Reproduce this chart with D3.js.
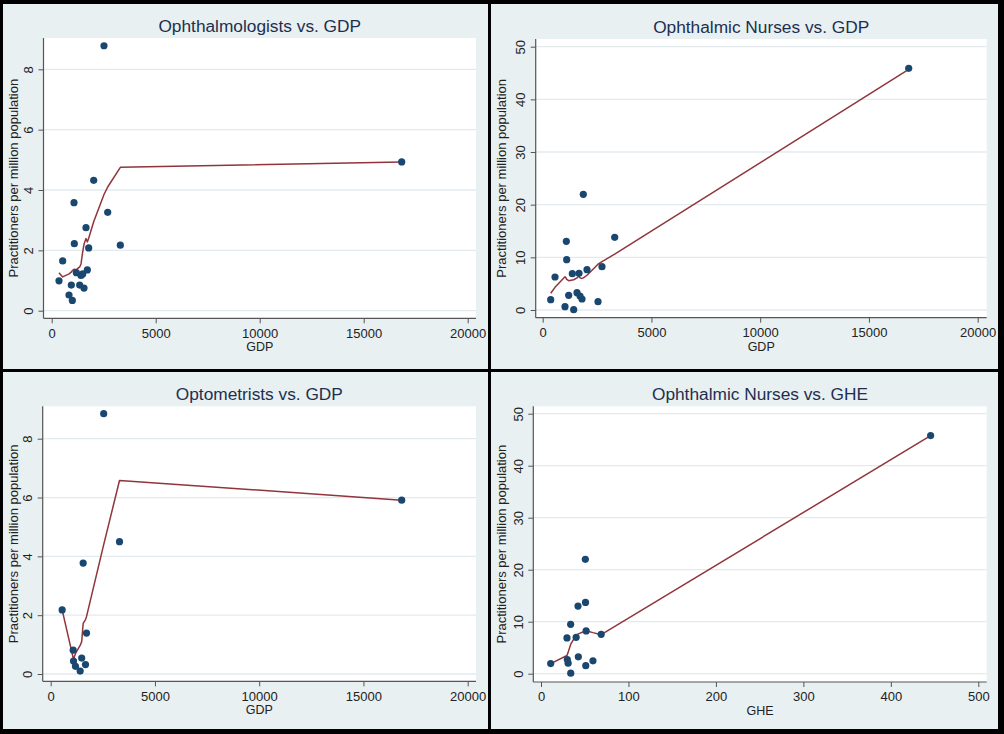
<!DOCTYPE html>
<html><head><meta charset="utf-8">
<script src="https://cdn.jsdelivr.net/npm/d3@7/dist/d3.min.js"></script>
<style>
body{margin:0;background:#000;}
svg{display:block;}
text{font-family:"Liberation Sans",Arial,sans-serif;}
</style>
</head><body>
<svg id="c" width="1004" height="734"></svg>
<script>
// ---------- data ----------
// Panel 1: Ophthalmologists vs. GDP
const gdpOphth = [351, 528, 832, 943, 992, 1072, 1088, 1184, 1345, 1409, 1490, 1553, 1649, 1713, 1778, 2018, 2514, 2692, 3300, 16827];
const ophthalmologists = [0.99, 1.65, 0.52, 0.85, 0.34, 3.58, 2.22, 1.26, 0.85, 1.17, 1.22, 0.75, 2.75, 1.35, 2.08, 4.32, 8.78, 3.26, 2.17, 4.93];
const ophthFit = [1.26, 1.12, 1.22, 1.28, 1.33, 1.37, 1.37, 1.36, 1.45, 1.55, 1.95, 2.2, 2.39, 2.28, 2.4, 2.95, 3.85, 4.1, 4.75, 4.93];

// Panel 2: Ophthalmic Nurses vs. GDP
const gdpNurses = [368, 566, 1025, 1087, 1103, 1195, 1362, 1425, 1577, 1669, 1715, 1807, 1867, 2037, 2543, 2726, 3310, 16828];
const nurses = [1.96, 6.27, 0.63, 13.04, 9.55, 2.79, 6.9, 0.06, 3.29, 6.96, 2.66, 2.09, 21.96, 7.66, 1.58, 8.23, 13.8, 45.9];
const nursesGdpFit = [3.17, 4.3, 6.3, 6.0, 5.8, 5.57, 5.7, 5.75, 6.1, 6.45, 6.1, 6.0, 6.1, 6.6, 8.7, 9.2, 10.6, 45.7];

// Panel 3: Optometrists vs. GDP
const gdpOptom = [549, 1078, 1093, 1189, 1413, 1486, 1557, 1669, 1717, 2542, 3300, 16835];
const optometrists = [2.18, 0.81, 0.44, 0.26, 0.10, 0.54, 3.77, 0.32, 1.39, 8.85, 4.50, 5.91];
const optomFit = [2.18, 0.55, 0.5, 0.7, 0.97, 1.1, 1.72, 1.85, 1.95, 4.4, 6.58, 5.91];

// Panel 4: Ophthalmic Nurses vs. GHE
const gheNurses = [11.1, 29.7, 30.1, 31.0, 33.9, 34.0, 40.2, 42.3, 42.7, 50.7, 50.9, 51.2, 51.6, 59.4, 68.8, 445.5];
const nursesGhe = [1.95, 6.88, 2.72, 2.02, 9.5, 0.1, 7.0, 13.0, 3.24, 21.99, 13.7, 1.54, 8.22, 2.47, 7.58, 45.8];
const nursesGheFit = [1.95, 3.5, 3.7, 4.1, 5.6, 5.7, 7.4, 7.6, 7.65, 8.2, 8.22, 8.25, 8.27, 7.9, 7.5, 45.8];

// tick labels
const gdpTicks = [0, 5000, 10000, 15000, 20000];
const gheTicks = [0, 100, 200, 300, 400, 500];
const ticksSmall = [0, 2, 4, 6, 8];
const ticksLarge = [0, 10, 20, 30, 40, 50];

const titles = ["Ophthalmologists vs. GDP", "Ophthalmic Nurses vs. GDP", "Optometrists vs. GDP", "Ophthalmic Nurses vs. GHE"];
const xLabels = ["GDP", "GDP", "GDP", "GHE"];
const yLabel = "Practitioners per million population";

// ---------- layout ----------
const layout = [
  {box:[3,4,488,369],   plot:[43.5,38,476,318.3],   xPx:[51.7,467.7], yPx:[310.7,69.3]},
  {box:[491,4,998,369], plot:[535.7,39,986.7,317.7], xPx:[542.7,977.7], yPx:[310,46.7]},
  {box:[3,372,488,729], plot:[42.7,406.3,476,681.3], xPx:[50.7,467.7], yPx:[674,438.7]},
  {box:[491,372,998,729], plot:[533.3,406.3,986.7,682], xPx:[541,978.3], yPx:[673.7,413.7]}
];
const panels = [
  {x:gdpOphth, y:ophthalmologists, fit:ophthFit, xt:gdpTicks, yt:ticksSmall},
  {x:gdpNurses, y:nurses, fit:nursesGdpFit, xt:gdpTicks, yt:ticksLarge},
  {x:gdpOptom, y:optometrists, fit:optomFit, xt:gdpTicks, yt:ticksSmall},
  {x:gheNurses, y:nursesGhe, fit:nursesGheFit, xt:gheTicks, yt:ticksLarge}
];

const BG = "#e8f0f2", GRID = "#e2eaee", NAVY = "#1a476f", MAROON = "#90353b", TITLE = "#1d2f4f";
const svg = d3.select("#c");
svg.append("rect").attr("width",1004).attr("height",734).attr("fill","#000");

panels.forEach((p, i) => {
  const L = layout[i];
  const g = svg.append("g");
  g.append("rect").attr("x",L.box[0]).attr("y",L.box[1])
    .attr("width",L.box[2]-L.box[0]).attr("height",L.box[3]-L.box[1]).attr("fill",BG);
  const [px0,py0,px1,py1] = L.plot;
  g.append("rect").attr("x",px0).attr("y",py0).attr("width",px1-px0).attr("height",py1-py0).attr("fill","#fff");

  const x = d3.scaleLinear().domain([p.xt[0], p.xt[p.xt.length-1]]).range(L.xPx);
  const y = d3.scaleLinear().domain([p.yt[0], p.yt[p.yt.length-1]]).range(L.yPx);

  // grid
  g.append("g").selectAll("line").data(p.yt).join("line")
    .attr("x1",px0).attr("x2",px1).attr("y1",d=>y(d)).attr("y2",d=>y(d))
    .attr("stroke",GRID).attr("stroke-width",1.3);

  // x axis
  const xa = g.append("g").attr("transform",`translate(0,${py1})`)
    .call(d3.axisBottom(x).tickValues(p.xt).tickFormat(d3.format("d")).tickSizeOuter(0).tickSize(5));
  xa.select(".domain").attr("d",`M${px0},0H${px1}`).attr("stroke","#555").attr("stroke-width",1.2);
  xa.selectAll(".tick line").attr("stroke","#555");
  xa.selectAll(".tick text").attr("y",19.3).attr("dy",0).attr("font-size",13).attr("fill","#222")
    .style("font-family","'Liberation Sans',Arial,sans-serif");

  // y axis
  const ya = g.append("g").attr("transform",`translate(${px0},0)`)
    .call(d3.axisLeft(y).tickValues(p.yt).tickFormat(d3.format("d")).tickSizeOuter(0).tickSize(5));
  ya.select(".domain").attr("d",`M0,${py0}V${py1}`).attr("stroke","#555").attr("stroke-width",1.2);
  ya.selectAll(".tick line").attr("stroke","#555");
  ya.selectAll(".tick text").attr("x",0).attr("y",-10.5).attr("dy",0).attr("text-anchor","middle")
    .attr("transform","rotate(-90)").attr("font-size",13).attr("fill","#222")
    .style("font-family","'Liberation Sans',Arial,sans-serif");
  xa.attr("font-family",null); ya.attr("font-family",null);

  // fit line
  const pts = p.x.map((v,k)=>[v,p.fit[k]]);
  g.append("path").attr("d", d3.line().x(d=>x(d[0])).y(d=>y(d[1]))(pts))
    .attr("fill","none").attr("stroke",MAROON).attr("stroke-width",1.5).attr("stroke-linejoin","round");

  // points
  g.append("g").selectAll("circle").data(p.x.map((v,k)=>[v,p.y[k]])).join("circle")
    .attr("cx",d=>x(d[0])).attr("cy",d=>y(d[1])).attr("r",3.6).attr("fill",NAVY);

  // title
  g.append("text").attr("x",(px0+px1)/2).attr("y",py0-6.5).attr("text-anchor","middle")
    .attr("font-size",17.3).attr("fill",TITLE).text(titles[i]);
  // x label
  g.append("text").attr("x",(px0+px1)/2).attr("y",py1+33).attr("text-anchor","middle")
    .attr("font-size",12.5).attr("fill","#222").text(xLabels[i]);
  // y label
  const cy = (py0+py1)/2, lx = L.box[0]+14.5;
  g.append("text").attr("transform",`translate(${lx},${cy}) rotate(-90)`).attr("text-anchor","middle")
    .attr("font-size",13).attr("fill","#222").text(yLabel);
});
</script>
</body></html>
